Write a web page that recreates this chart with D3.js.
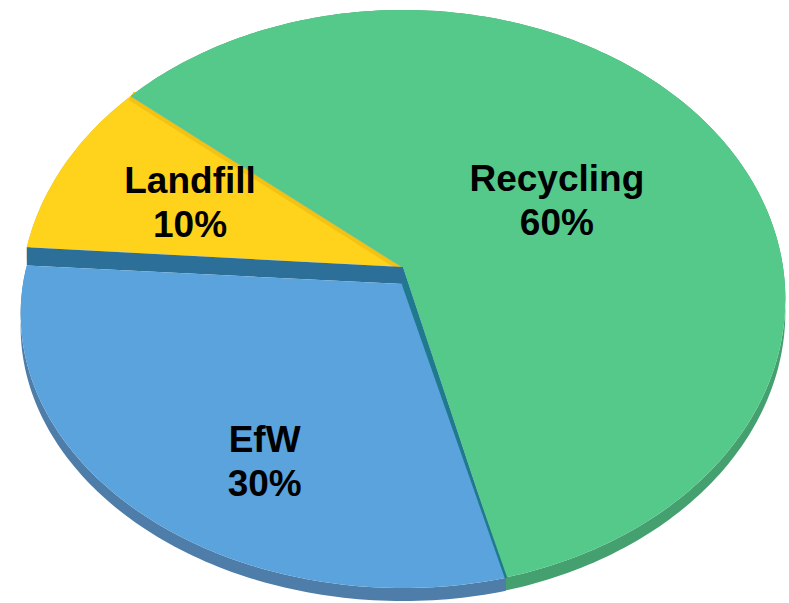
<!DOCTYPE html>
<html>
<head>
<meta charset="utf-8">
<script src="https://cdn.jsdelivr.net/npm/d3@7"></script>
<style>
  html, body { margin: 0; padding: 0; background: #ffffff; }
  svg { display: block; }
</style>
</head>
<body>
<svg id="chart" width="789" height="603"></svg>
<script>
// ---- data ----
const categories = ["Recycling", "EfW", "Landfill"];
const values = [60, 30, 10];
const percentLabels = ["60%", "30%", "10%"];

// ---- styles / layout ----
const faceColors = ["#55c98a", "#5ba3dc", "#ffd21c"];
const rimColors = ["#45a06f", "#4d7da8", "#e0b818"];
const W = 789, H = 603;
const P = { cx: 403, cy: 267, A: 380, B: 285.5, k: 0.1107 };   // projection of the disc
const startDeg = 310;          // angle of the Recycling / Landfill edge
const thickness = 13;          // side wall height
const dropEfW = 17;            // EfW slice sits lower at its tip
const labelLayout = [
  { r: 0.48, da: 2 },
  { r: 0.70, da: -11 },
  { r: 0.62, da: 0 }
];

const svg = d3.select("#chart");
svg.append("rect").attr("width", W).attr("height", H).attr("fill", "#ffffff");

const rad = d => d * Math.PI / 180;
function proj(a, r) {
  const u = r * Math.sin(a), v = r * Math.cos(a);
  const w = 1 + P.k * v;
  return [P.cx + (P.A * u) / w, P.cy - (P.B * v) / w];
}
// vertical shift for the lowered slice
function shiftFor(i, a, r) {
  if (categories[i] !== "EfW") return 0;
  const v = r * Math.cos(a);
  return dropEfW * (1 + v);
}
function pt(i, a, r, extra) {
  const p = proj(a, r);
  return [p[0], p[1] + shiftFor(i, a, r) + (extra || 0)];
}
function arcPts(i, a0, a1, extra) {
  const n = Math.max(8, Math.ceil(Math.abs(a1 - a0) / rad(1)));
  return d3.range(n + 1).map(j => pt(i, a0 + (a1 - a0) * j / n, 1, extra));
}

const pie = d3.pie().sort(null).value(d => d)
  .startAngle(rad(startDeg)).endAngle(rad(startDeg) + 2 * Math.PI);
const arcs = pie(values);
const line = d3.line();

// ---- side walls (rims) ----
const gRim = svg.append("g");
arcs.forEach((d, i) => {
  const top = arcPts(i, d.startAngle, d.endAngle, 0);
  const bot = arcPts(i, d.startAngle, d.endAngle, thickness).reverse();
  gRim.append("path")
    .attr("d", line(top.concat(bot)) + "Z")
    .attr("fill", rimColors[i]);
});

// ---- top faces ----
const gFace = svg.append("g");
function facePath(i, d) {
  return line([pt(i, 0, 0)].concat(arcPts(i, d.startAngle, d.endAngle, 0))) + "Z";
}
const iL = categories.indexOf("Landfill");
const iR = categories.indexOf("Recycling");
const iE = categories.indexOf("EfW");

gFace.append("path").attr("d", facePath(iL, arcs[iL])).attr("fill", faceColors[iL]);
gFace.append("path")
  .attr("d", line([pt(iL, 0, 0), pt(iL, arcs[iL].endAngle, 1)]))
  .attr("stroke", "#f3c214").attr("stroke-width", 10).attr("fill", "none");
gFace.append("path").attr("d", facePath(iR, arcs[iR])).attr("fill", faceColors[iR]);
gFace.append("path")
  .attr("d", line([pt(iR, 0, 0), pt(iR, arcs[iR].startAngle, 1)]))
  .attr("stroke", "#45c6a6").attr("stroke-width", 2).attr("fill", "none").attr("opacity", 0.7);

// walls exposed by the lowered EfW slice
const aRE = arcs[iE].startAngle, aEL = arcs[iE].endAngle;
gFace.append("path")
  .attr("d", line([proj(aEL, 0), proj(aEL, 1), pt(iE, aEL, 1), pt(iE, aEL, 0)]) + "Z")
  .attr("fill", "#2c6f98");
gFace.append("path")
  .attr("d", line([proj(aRE, 0), proj(aRE, 1), pt(iE, aRE, 1), pt(iE, aRE, 0)]) + "Z")
  .attr("fill", "#1f7a8e");
gFace.append("path").attr("d", facePath(iE, arcs[iE])).attr("fill", faceColors[iE]);
gFace.append("path")
  .attr("d", line([pt(iE, aRE, 0), pt(iE, aRE, 1)]))
  .attr("stroke", "#1f7a8e").attr("stroke-width", 2.5).attr("fill", "none");

// ---- labels ----
const gLab = svg.append("g")
  .attr("font-family", "'Liberation Sans', Arial, Helvetica, sans-serif")
  .attr("font-weight", "bold").attr("font-size", 37).attr("fill", "#000")
  .attr("text-anchor", "middle");
arcs.forEach((d, i) => {
  const mid = (d.startAngle + d.endAngle) / 2 + rad(labelLayout[i].da);
  const c = pt(i, mid, labelLayout[i].r);
  const t = gLab.append("text").attr("x", c[0]).attr("y", c[1]);
  t.append("tspan").attr("x", c[0]).attr("y", c[1] - 9).text(categories[i]);
  t.append("tspan").attr("x", c[0]).attr("y", c[1] + 35).text(percentLabels[i]);
});
</script>
</body>
</html>
